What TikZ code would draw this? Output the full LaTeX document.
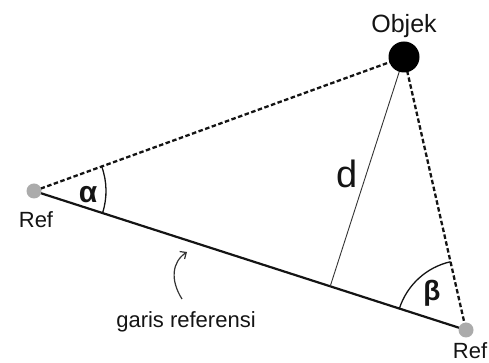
\documentclass[tikz,border=0pt]{standalone}
\usepackage{fontspec}
\setmainfont{Liberation Sans}
\usepackage{tikz}
\usetikzlibrary{arrows.meta,calc,angles,positioning}
\definecolor{ink}{HTML}{141414}
\definecolor{dotgray}{HTML}{ABABAB}
\definecolor{note}{HTML}{333333}
\tikzset{
  refdot/.style={circle,fill=dotgray,inner sep=0pt,minimum size=15pt},
  objdot/.style={circle,fill=black,inner sep=0pt,minimum size=31pt},
  sightline/.style={ink,line width=2.3pt,dash pattern=on 4.5pt off 2.5pt},
  anglearc/.style={draw=ink,line width=1.3pt},
  lbl/.style={font=\fontsize{22}{26}\selectfont,text=ink,inner sep=0pt},
}

\begin{document}
\begin{tikzpicture}[x=1pt,y=1pt]
  \useasboundingbox (0,0) rectangle (489,363);
  \coordinate (refA) at (34,172);
  \coordinate (refB) at (466,33);
  \coordinate (obj) at (404,306);
  \coordinate (foot) at ($(refA)!(obj)!(refB)$);
  \draw[ink,line width=2.2pt] (refA) -- (refB);
  \draw[sightline] (refA) -- (obj);
  \draw[sightline] (obj) -- (refB);
  \draw[note,line width=0.9pt] (obj) -- (foot);
  \pic[anglearc,angle radius=72pt] {angle=refB--refA--obj};
  \pic[anglearc,angle radius=70pt] {angle=obj--refB--refA};
  \node[refdot] (refAdot) at (refA) {};
  \node[refdot] (refBdot) at (refB) {};
  \node[objdot] (objdot) at (obj) {};
  \node[lbl,font=\fontsize{25}{30}\selectfont,above=3pt of objdot] (objlbl) {Objek};
  \node[lbl,anchor=base] (refAlbl) at (36,135) {Ref};
  \node[lbl,anchor=base] (refBlbl) at (470,4) {Ref};
  \node[lbl,anchor=base,font=\fontsize{38}{44}\selectfont] (dlbl) at (347,175) {d};
  \node[lbl,anchor=base,font=\fontsize{30}{36}\selectfont\bfseries] (alphalbl) at (88,160) {α};
  \node[lbl,font=\fontsize{28}{34}\selectfont\bfseries] (betalbl) at (432,70) {β};
  \node[lbl,anchor=base] (garislbl) at (186,35) {garis referensi};
  % pointer to the reference line
  \coordinate (arrowtail) at (182,64);
  \coordinate (arrowtip) at (187,111);
  \draw[note,line width=1.2pt,-{Straight Barb[length=5pt,width=9pt]}] (arrowtail) .. controls (170,83) and (172,101) .. (arrowtip);
\end{tikzpicture}
\end{document}
